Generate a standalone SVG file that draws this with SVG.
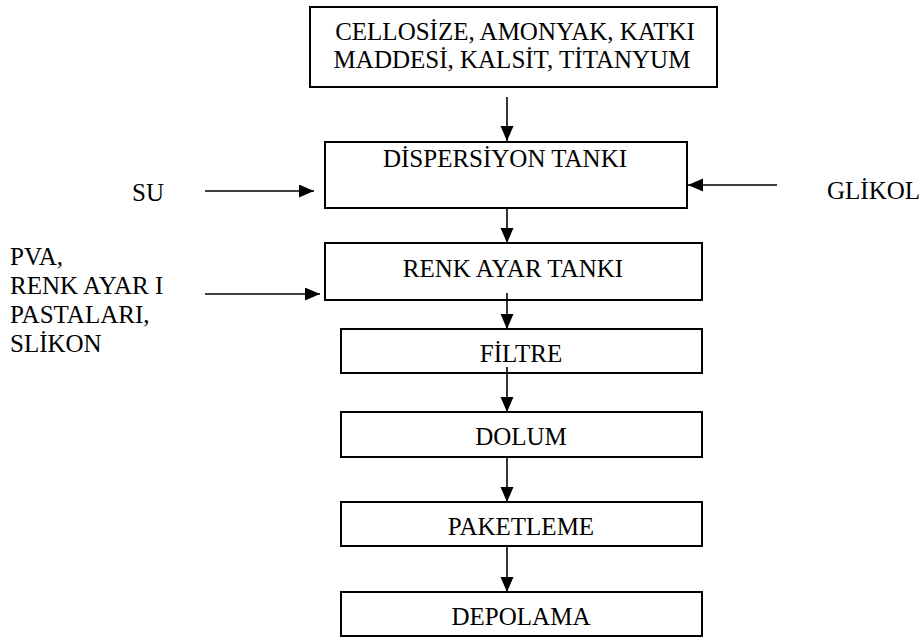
<svg xmlns="http://www.w3.org/2000/svg" width="924" height="637" viewBox="0 0 924 637">
<style>
.box{fill:#fff;stroke:#000;stroke-width:2}
.t{font-family:'Liberation Serif','Times New Roman',serif;font-size:25px;fill:#000}
.m{text-anchor:middle}
.c{stroke:#000;stroke-width:1.6;fill:none;marker-end:url(#ah)}
</style>
<defs>
<marker id="ah" markerUnits="userSpaceOnUse" markerWidth="16" markerHeight="14" refX="15" refY="6.5" orient="auto">
<path d="M0,0 L15,6.5 L0,13 z" fill="#000"/>
</marker>
</defs>
<g id="n-inputs">
<rect class="box" x="310" y="7" width="407" height="80"/>
<text class="t m" x="515" y="40">CELLOSİZE, AMONYAK, KATKI</text>
<text class="t m" x="512" y="68">MADDESİ, KALSİT, TİTANYUM</text>
</g>
<g id="n-dispersiyon">
<rect class="box" x="325" y="142" width="362" height="66"/>
<text class="t m" x="505" y="167">DİSPERSİYON TANKI</text>
</g>
<g id="n-renk">
<rect class="box" x="325" y="243" width="377" height="57"/>
<text class="t m" x="513" y="277">RENK AYAR TANKI</text>
</g>
<g id="n-filtre">
<rect class="box" x="341" y="329" width="361" height="44"/>
<text class="t m" x="521" y="362">FİLTRE</text>
</g>
<g id="n-dolum">
<rect class="box" x="341" y="412" width="361" height="45"/>
<text class="t m" x="521" y="445">DOLUM</text>
</g>
<g id="n-paketleme">
<rect class="box" x="341" y="502" width="361" height="44"/>
<text class="t m" x="521" y="535">PAKETLEME</text>
</g>
<g id="n-depolama">
<rect class="box" x="341" y="592" width="361" height="44"/>
<text class="t m" x="521" y="625">DEPOLAMA</text>
</g>
<g id="n-su">
<text class="t" x="132" y="201">SU</text>
</g>
<g id="n-glikol">
<text class="t" x="827" y="199">GLİKOL</text>
</g>
<g id="n-pva">
<text class="t" x="10" y="265">PVA,</text>
<text class="t" x="10" y="294">RENK AYAR I</text>
<text class="t" x="10" y="323">PASTALARI,</text>
<text class="t" x="10" y="352">SLİKON</text>
</g>
<g id="connectors">
<line class="c" x1="507" y1="97" x2="507" y2="141"/>
<line class="c" x1="205" y1="191" x2="314" y2="191"/>
<line class="c" x1="777" y1="185" x2="688" y2="185"/>
<line class="c" x1="507" y1="208" x2="507" y2="243"/>
<line class="c" x1="205" y1="294" x2="320" y2="294"/>
<line class="c" x1="507" y1="293" x2="507" y2="329"/>
<line class="c" x1="507" y1="367" x2="507" y2="412"/>
<line class="c" x1="507" y1="457" x2="507" y2="502"/>
<line class="c" x1="507" y1="546" x2="507" y2="592"/>
</g>
</svg>
